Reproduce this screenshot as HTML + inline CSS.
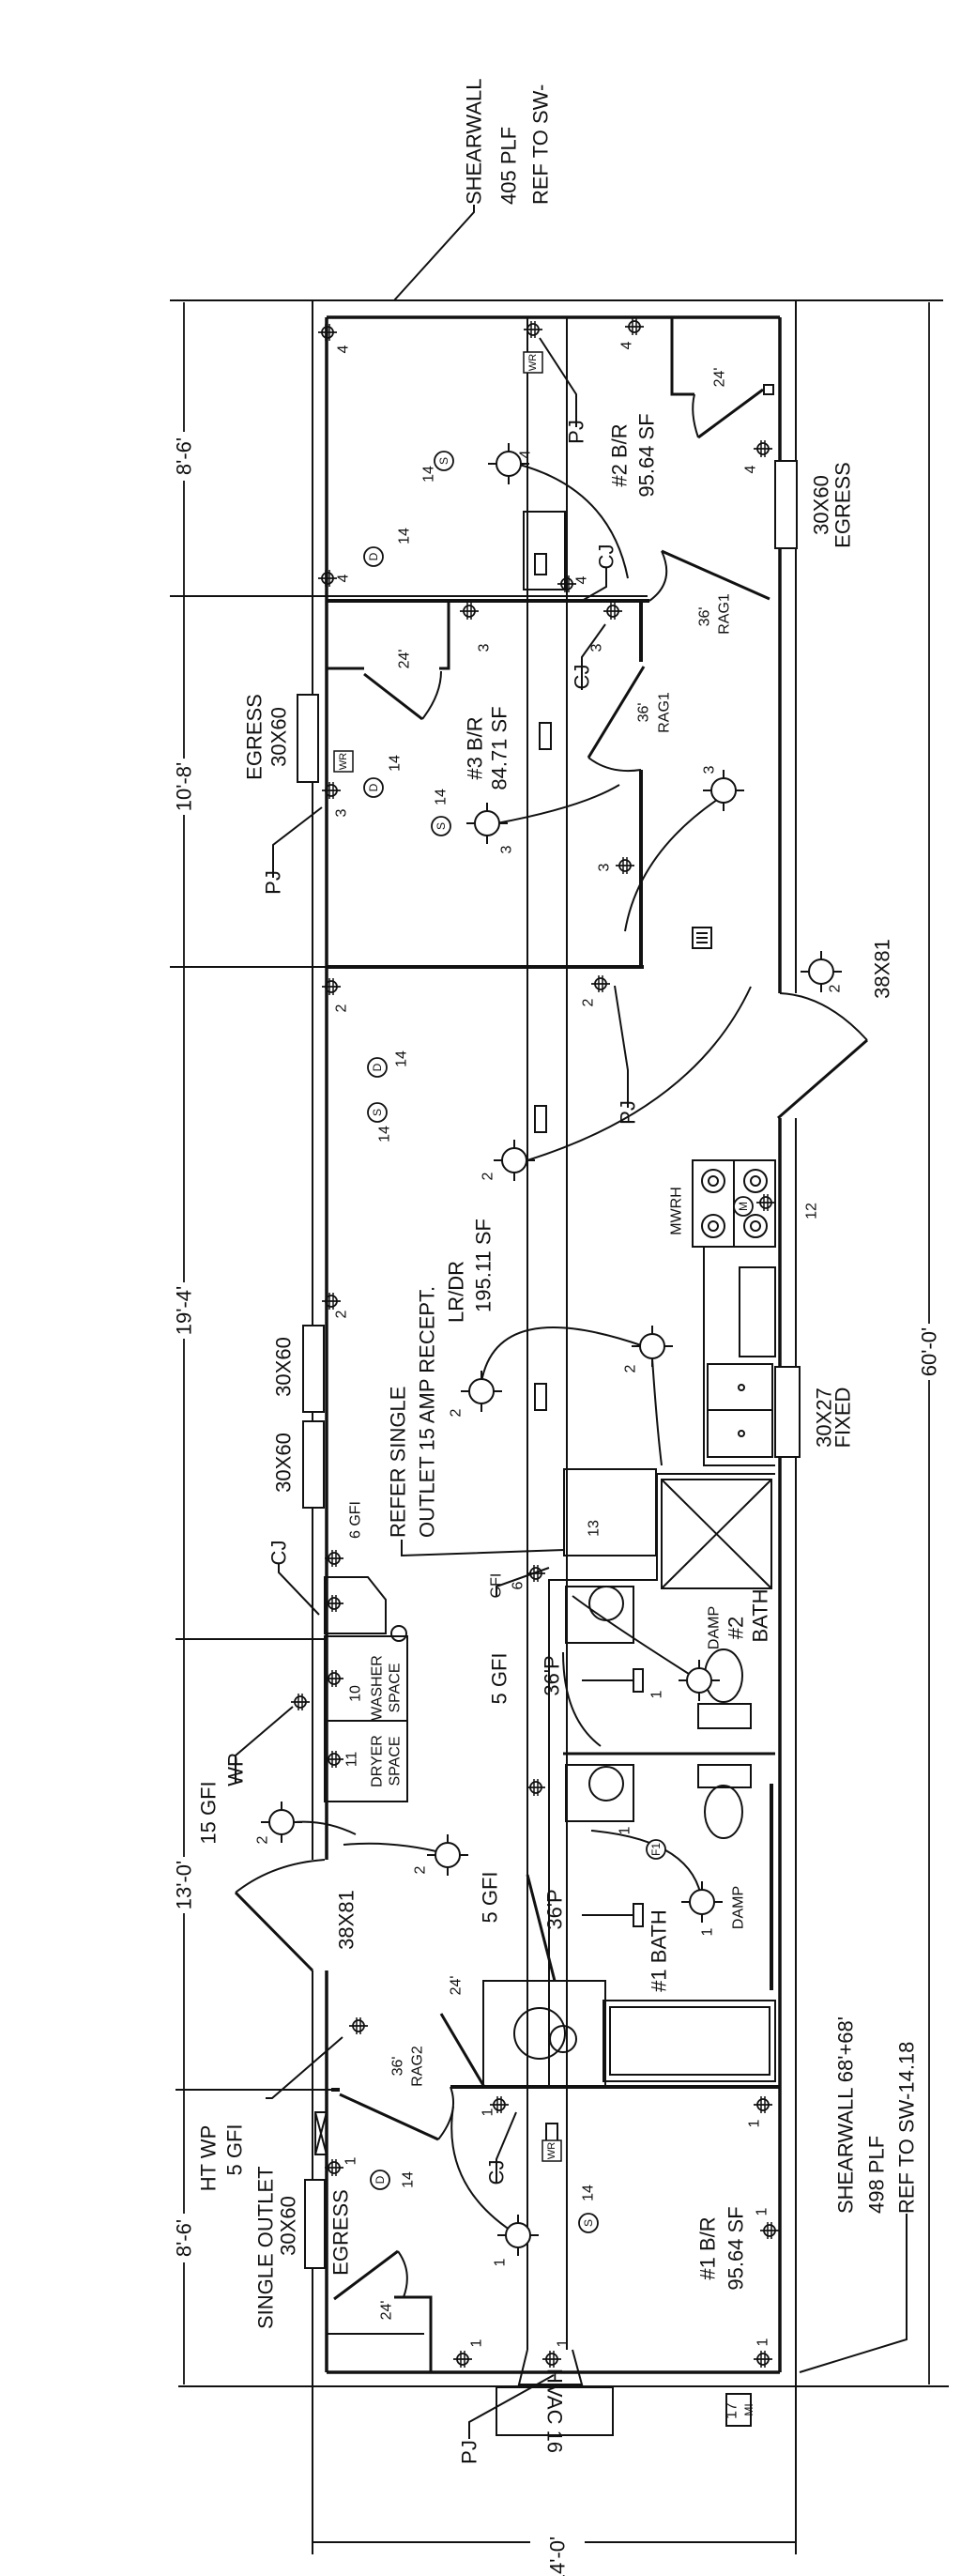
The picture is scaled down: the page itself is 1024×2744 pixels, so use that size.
<!DOCTYPE html>
<html><head><meta charset="utf-8"><style>
html,body{margin:0;padding:0;background:#fff;}
svg{display:block;}
text{font-family:"Liberation Sans",sans-serif;fill:#111;}
.t{font-size:22px;}
.s{font-size:16px;}
</style></head><body>
<svg width="1024" height="2744" viewBox="0 0 1024 2744" xmlns="http://www.w3.org/2000/svg">
<defs>
<g id="o"><circle cx="0" cy="0" r="6" fill="none" stroke="#111" stroke-width="1.8"/><line x1="-10" y1="0" x2="10" y2="0" stroke="#111" stroke-width="1.8"/><line x1="-2" y1="-9" x2="-2" y2="9" stroke="#111" stroke-width="1.5"/><line x1="2" y1="-9" x2="2" y2="9" stroke="#111" stroke-width="1.5"/></g>
<g id="L"><circle cx="0" cy="0" r="13" fill="#fff" stroke="#111" stroke-width="2"/><line x1="-22" y1="0" x2="-13" y2="0" stroke="#111" stroke-width="2"/><line x1="13" y1="0" x2="22" y2="0" stroke="#111" stroke-width="2"/><line x1="0" y1="-22" x2="0" y2="-13" stroke="#111" stroke-width="2"/><line x1="0" y1="13" x2="0" y2="22" stroke="#111" stroke-width="2"/></g>
<g id="c"><circle cx="0" cy="0" r="10" fill="#fff" stroke="#111" stroke-width="1.8"/></g>
</defs>
<g stroke="#111" fill="none" stroke-width="2">
<!-- outer frame / dimension lines -->
<line x1="181" y1="320" x2="1005" y2="320"/>
<line x1="190" y1="2542" x2="1011" y2="2542"/>
<line x1="196" y1="322" x2="196" y2="2540" stroke-width="1.8"/>
<line x1="990" y1="322" x2="990" y2="2540" stroke-width="1.8"/>
<line x1="181" y1="635" x2="690" y2="635"/>
<line x1="181" y1="1030" x2="686" y2="1030"/>
<line x1="187" y1="1746" x2="348" y2="1746"/>
<line x1="187" y1="2226" x2="360" y2="2226"/>
<line x1="333" y1="2542" x2="333" y2="2721"/>
<line x1="848" y1="2542" x2="848" y2="2721"/>
<line x1="333" y1="2708" x2="848" y2="2708"/>
<!-- shearwall leaders -->
<polyline points="505,218 505,226 420,320"/>
<polyline points="966,2358 966,2492 852,2527"/>
<!-- walls -->
<line x1="333" y1="320" x2="333" y2="2542"/>
<line x1="348" y1="338" x2="348" y2="2527" stroke-width="3.5"/>
<line x1="848" y1="320" x2="848" y2="2542"/>
<line x1="831" y1="338" x2="831" y2="2527" stroke-width="3.5"/>
<line x1="348" y1="338" x2="831" y2="338" stroke-width="3.5"/>
<line x1="348" y1="2527" x2="831" y2="2527" stroke-width="3.5"/>
<!-- duct -->
<line x1="562" y1="338" x2="562" y2="2503"/>
<line x1="604" y1="338" x2="604" y2="2503"/>
<polyline points="562,2503 553,2540 620,2540 610,2503"/>
<rect x="558" y="545" width="44" height="83"/>
<rect x="570" y="590" width="12" height="22"/>
<rect x="575" y="770" width="12" height="28"/>
<rect x="570" y="1178" width="12" height="28"/>
<rect x="570" y="1474" width="12" height="28"/>
<rect x="582" y="2262" width="12" height="28"/>
<!-- bedroom walls -->
<line x1="348" y1="640" x2="692" y2="640" stroke-width="4"/>
<line x1="348" y1="1030" x2="686" y2="1030" stroke-width="4"/>
<line x1="683" y1="640" x2="683" y2="705" stroke-width="4"/>
<line x1="683" y1="820" x2="683" y2="1030" stroke-width="4"/>
<line x1="686" y1="710" x2="627" y2="807" stroke-width="3"/>
<line x1="820" y1="638" x2="705" y2="587" stroke-width="3"/>
<path d="M705 587 Q 720 620 692 640"/>
<path d="M627 807 Q 650 825 683 820"/>
<!-- #2 closet -->
<polyline points="716,338 716,420 740,420" stroke-width="3"/>
<line x1="813" y1="415" x2="744" y2="466" stroke-width="3"/>
<path d="M744 466 Q 735 440 740 420"/>
<rect x="814" y="410" width="10" height="10"/>
<!-- #3 closet -->
<polyline points="478,640 478,712 468,712" stroke-width="3"/>
<line x1="348" y1="712" x2="388" y2="712" stroke-width="3"/>
<line x1="388" y1="718" x2="450" y2="766" stroke-width="3"/>
<path d="M450 766 Q 470 740 470 715"/>
<!-- windows -->
<rect x="317" y="740" width="22" height="93" fill="#fff"/>
<rect x="826" y="491" width="23" height="93" fill="#fff"/>
<rect x="323" y="1412" width="22" height="92" fill="#fff"/>
<rect x="323" y="1514" width="22" height="92" fill="#fff"/>
<rect x="826" y="1456" width="26" height="96" fill="#fff"/>
<rect x="325" y="2322" width="21" height="94" fill="#fff"/>
<rect x="336" y="2250" width="12" height="45"/>
<line x1="336" y1="2250" x2="348" y2="2295"/><line x1="348" y1="2250" x2="336" y2="2295"/>
<!-- door openings -->
<rect x="826" y="1058" width="26" height="133" fill="#fff" stroke="none"/>
<rect x="328" y="1981" width="24" height="118" fill="#fff" stroke="none"/>
<line x1="829" y1="1191" x2="924" y2="1108" stroke-width="3"/>
<path d="M924 1108 Q 880 1060 831 1058"/>
<line x1="333" y1="2099" x2="251" y2="2016" stroke-width="3"/>
<path d="M251 2016 Q 290 1985 346 1981"/>
<!-- kitchen -->
<rect x="738" y="1236" width="88" height="92"/>
<line x1="782" y1="1236" x2="782" y2="1328"/>
<circle cx="760" cy="1258" r="12"/><circle cx="760" cy="1258" r="5"/>
<circle cx="805" cy="1258" r="12"/><circle cx="805" cy="1258" r="5"/>
<circle cx="760" cy="1306" r="12"/><circle cx="760" cy="1306" r="5"/>
<circle cx="805" cy="1306" r="12"/><circle cx="805" cy="1306" r="5"/>
<polyline points="750,1328 750,1561 826,1561"/>
<rect x="788" y="1350" width="38" height="95"/>
<rect x="754" y="1453" width="69" height="99"/>
<line x1="754" y1="1502" x2="823" y2="1502"/>
<circle cx="790" cy="1478" r="3"/><circle cx="790" cy="1527" r="3"/>
<!-- laundry -->
<rect x="346" y="1743" width="88" height="176"/>
<line x1="346" y1="1833" x2="434" y2="1833"/>
<polygon points="346,1680 392,1680 411,1704 411,1740 346,1740"/>
<circle cx="425" cy="1740" r="8"/>
<!-- baths -->
<rect x="601" y="1565" width="98" height="92"/>
<polyline points="585,2223 585,1683 700,1683 700,1570 826,1570"/>
<rect x="705" y="1576" width="117" height="116"/>
<line x1="705" y1="1576" x2="822" y2="1692"/><line x1="822" y1="1576" x2="705" y2="1692"/>
<line x1="600" y1="1868" x2="826" y2="1868" stroke-width="3"/>
<rect x="603" y="1690" width="72" height="60"/>
<circle cx="646" cy="1708" r="18"/>
<rect x="603" y="1880" width="72" height="60"/>
<circle cx="646" cy="1900" r="18"/>
<ellipse cx="771" cy="1785" rx="20" ry="28"/>
<rect x="744" y="1815" width="56" height="26"/>
<ellipse cx="771" cy="1930" rx="20" ry="28"/>
<rect x="744" y="1880" width="56" height="24"/>
<line x1="620" y1="1790" x2="675" y2="1790"/><rect x="675" y="1778" width="10" height="24"/>
<line x1="620" y1="2040" x2="675" y2="2040"/><rect x="675" y="2028" width="10" height="24"/>
<line x1="822" y1="1900" x2="822" y2="2120" stroke-width="4"/>
<rect x="643" y="2131" width="183" height="86"/>
<rect x="650" y="2138" width="170" height="72"/>
<rect x="515" y="2110" width="130" height="113"/>
<circle cx="575" cy="2166" r="27"/><circle cx="600" cy="2172" r="14"/>
<line x1="591" y1="2110" x2="562" y2="1997" stroke-width="3"/>
<line x1="480" y1="2223" x2="831" y2="2223" stroke-width="4"/>
<line x1="353" y1="2226" x2="362" y2="2226" stroke-width="4"/>
<line x1="362" y1="2231" x2="467" y2="2279" stroke-width="3"/>
<path d="M467 2279 Q 490 2250 480 2223"/>
<line x1="516" y1="2223" x2="470" y2="2145" stroke-width="3"/>
<!-- #1 closet -->
<polyline points="459,2527 459,2447 420,2447" stroke-width="3"/>
<line x1="348" y1="2486" x2="452" y2="2486"/>
<line x1="356" y1="2449" x2="424" y2="2398" stroke-width="3"/>
<path d="M424 2398 Q 440 2420 430 2447"/>
<!-- HVAC -->
<rect x="529" y="2543" width="124" height="51"/>
<rect x="774" y="2550" width="26" height="34"/>
<polyline points="500,2598 500,2580 590,2530"/>
<!-- register -->
<rect x="738" y="988" width="20" height="22"/>
<line x1="742" y1="994" x2="754" y2="994"/><line x1="742" y1="999" x2="754" y2="999"/><line x1="742" y1="1004" x2="754" y2="1004"/>
<!-- wiring curves -->
<path d="M550 494 Q 650 520 669 616"/>
<path d="M529 877 Q 620 860 660 836"/>
<path d="M764 852 Q 680 910 666 992"/>
<path d="M562 1236 Q 740 1180 800 1051"/>
<path d="M513 1472 Q 530 1380 686 1434"/>
<path d="M695 1447 Q 700 1520 705 1561"/>
<path d="M300 1943 Q 340 1935 379 1954"/>
<path d="M477 1975 Q 420 1960 366 1965"/>
<path d="M552 2381 Q 470 2330 483 2244"/>
<path d="M748 2026 Q 740 1960 630 1950"/>
<path d="M745 1790 Q 650 1730 610 1700"/>
<path d="M640 1860 Q 600 1830 600 1760"/>
<!-- leaders -->
<polyline points="428,1640 428,1657 601,1651"/>
<polyline points="614,455 614,420 575,360"/>
<polyline points="291,935 291,900 343,860"/>
<polyline points="669,1180 669,1140 655,1050"/>
<polyline points="297,1665 297,1675 340,1720"/>
<polyline points="251,1900 251,1870 312,1818"/>
<polyline points="283,2235 290,2235 365,2170"/>
<polyline points="529,2325 529,2300 550,2250"/>
<polyline points="529,1700 529,1690 585,1670"/>
<polyline points="646,605 646,625 620,640"/>
<polyline points="620,735 620,700 645,665"/>
</g>
<!-- fixtures -->
<g>
<use href="#L" x="542" y="494"/><use href="#L" x="519" y="877"/><use href="#L" x="771" y="842"/>
<use href="#L" x="548" y="1236"/><use href="#L" x="513" y="1482"/><use href="#L" x="695" y="1434"/>
<use href="#L" x="875" y="1035"/><use href="#L" x="300" y="1941"/><use href="#L" x="477" y="1976"/>
<use href="#L" x="748" y="2026"/><use href="#L" x="552" y="2381"/><use href="#L" x="745" y="1790"/>
<use href="#o" x="349" y="354"/><use href="#o" x="568" y="351"/><use href="#o" x="676" y="348"/>
<use href="#o" x="813" y="478"/><use href="#o" x="349" y="616"/><use href="#o" x="604" y="622"/>
<use href="#o" x="500" y="651"/><use href="#o" x="653" y="651"/><use href="#o" x="353" y="842"/>
<use href="#o" x="666" y="922"/><use href="#o" x="353" y="1051"/><use href="#o" x="640" y="1048"/>
<use href="#o" x="353" y="1386"/><use href="#o" x="356" y="1660"/><use href="#o" x="356" y="1708"/>
<use href="#o" x="356" y="1788"/><use href="#o" x="356" y="1874"/><use href="#o" x="320" y="1813"/>
<use href="#o" x="571" y="1676"/><use href="#o" x="816" y="1281"/><use href="#o" x="382" y="2158"/>
<use href="#o" x="356" y="2309"/><use href="#o" x="532" y="2242"/><use href="#o" x="813" y="2242"/>
<use href="#o" x="820" y="2376"/><use href="#o" x="493" y="2513"/><use href="#o" x="588" y="2513"/>
<use href="#o" x="813" y="2513"/><use href="#o" x="571" y="1904"/>
<use href="#c" x="473" y="491"/><use href="#c" x="398" y="593"/><use href="#c" x="398" y="839"/>
<use href="#c" x="470" y="880"/><use href="#c" x="402" y="1185"/><use href="#c" x="402" y="1137"/>
<use href="#c" x="405" y="2322"/><use href="#c" x="627" y="2368"/><use href="#c" x="699" y="1970"/>
<use href="#c" x="792" y="1285"/>
</g>
<g stroke="#111" fill="#fff" stroke-width="1.5">
<rect x="558" y="375" width="20" height="22"/><rect x="356" y="800" width="20" height="22"/><rect x="578" y="2280" width="20" height="22"/>
</g>
<!-- white backs for dim labels -->
<g fill="#fff">
<rect x="184" y="460" width="24" height="52"/><rect x="184" y="808" width="24" height="60"/>
<rect x="184" y="1366" width="24" height="60"/><rect x="184" y="1978" width="24" height="60"/>
<rect x="184" y="2358" width="24" height="52"/><rect x="978" y="1410" width="24" height="60"/>
<rect x="565" y="2700" width="58" height="16"/>
</g>
<g class="t">
<text transform="translate(196 486) rotate(-90)" text-anchor="middle" dominant-baseline="central">8'-6'</text>
<text transform="translate(196 838) rotate(-90)" text-anchor="middle" dominant-baseline="central">10'-8'</text>
<text transform="translate(196 1396) rotate(-90)" text-anchor="middle" dominant-baseline="central">19'-4'</text>
<text transform="translate(196 2008) rotate(-90)" text-anchor="middle" dominant-baseline="central">13'-0'</text>
<text transform="translate(196 2384) rotate(-90)" text-anchor="middle" dominant-baseline="central">8'-6'</text>
<text transform="translate(990 1440) rotate(-90)" text-anchor="middle" dominant-baseline="central">60'-0'</text>
<text transform="translate(594 2728) rotate(-90)" text-anchor="middle" dominant-baseline="central">14'-0'</text>
<text transform="translate(505 218) rotate(-90)" dominant-baseline="central">SHEARWALL</text>
<text transform="translate(542 218) rotate(-90)" dominant-baseline="central">405 PLF</text>
<text transform="translate(576 218) rotate(-90)" dominant-baseline="central">REF TO SW-</text>
<text transform="translate(901 2358) rotate(-90)" dominant-baseline="central">SHEARWALL  68'+68'</text>
<text transform="translate(934 2358) rotate(-90)" dominant-baseline="central">498 PLF</text>
<text transform="translate(966 2358) rotate(-90)" dominant-baseline="central">REF TO SW-14.18</text>
<text transform="translate(660 485) rotate(-90)" text-anchor="middle" dominant-baseline="central">#2 B/R</text>
<text transform="translate(689 485) rotate(-90)" text-anchor="middle" dominant-baseline="central">95.64 SF</text>
<text transform="translate(506 797) rotate(-90)" text-anchor="middle" dominant-baseline="central">#3 B/R</text>
<text transform="translate(532 797) rotate(-90)" text-anchor="middle" dominant-baseline="central">84.71 SF</text>
<text transform="translate(754 2395) rotate(-90)" text-anchor="middle" dominant-baseline="central">#1 B/R</text>
<text transform="translate(784 2395) rotate(-90)" text-anchor="middle" dominant-baseline="central">95.64 SF</text>
<text transform="translate(424 1638) rotate(-90)" dominant-baseline="central">REFER SINGLE</text>
<text transform="translate(455 1638) rotate(-90)" dominant-baseline="central">OUTLET 15 AMP RECEPT.</text>
<text transform="translate(486 1376) rotate(-90)" text-anchor="middle" dominant-baseline="central">LR/DR</text>
<text transform="translate(515 1348) rotate(-90)" text-anchor="middle" dominant-baseline="central">195.11 SF</text>
<text transform="translate(875 538) rotate(-90)" text-anchor="middle" dominant-baseline="central">30X60</text>
<text transform="translate(898 538) rotate(-90)" text-anchor="middle" dominant-baseline="central">EGRESS</text>
<text transform="translate(271 785) rotate(-90)" text-anchor="middle" dominant-baseline="central">EGRESS</text>
<text transform="translate(297 785) rotate(-90)" text-anchor="middle" dominant-baseline="central">30X60</text>
<text transform="translate(302 1456) rotate(-90)" text-anchor="middle" dominant-baseline="central">30X60</text>
<text transform="translate(302 1558) rotate(-90)" text-anchor="middle" dominant-baseline="central">30X60</text>
<text transform="translate(878 1510) rotate(-90)" text-anchor="middle" dominant-baseline="central">30X27</text>
<text transform="translate(898 1510) rotate(-90)" text-anchor="middle" dominant-baseline="central">FIXED</text>
<text transform="translate(940 1032) rotate(-90)" text-anchor="middle" dominant-baseline="central">38X81</text>
<text transform="translate(369 2045) rotate(-90)" text-anchor="middle" dominant-baseline="central">38X81</text>
<text transform="translate(222 1931) rotate(-90)" text-anchor="middle" dominant-baseline="central">15 GFI</text>
<text transform="translate(251 1885) rotate(-90)" text-anchor="middle" dominant-baseline="central">WP</text>
<text transform="translate(222 2299) rotate(-90)" text-anchor="middle" dominant-baseline="central">HT WP</text>
<text transform="translate(250 2290) rotate(-90)" text-anchor="middle" dominant-baseline="central">5 GFI</text>
<text transform="translate(283 2481) rotate(-90)" dominant-baseline="central">SINGLE OUTLET</text>
<text transform="translate(307 2371) rotate(-90)" text-anchor="middle" dominant-baseline="central">30X60</text>
<text transform="translate(363 2378) rotate(-90)" text-anchor="middle" dominant-baseline="central">EGRESS</text>
<text transform="translate(532 1788) rotate(-90)" text-anchor="middle" dominant-baseline="central">5 GFI</text>
<text transform="translate(522 2021) rotate(-90)" text-anchor="middle" dominant-baseline="central">5 GFI</text>
<text transform="translate(588 1785) rotate(-90)" text-anchor="middle" dominant-baseline="central">36'P</text>
<text transform="translate(591 2034) rotate(-90)" text-anchor="middle" dominant-baseline="central">36'P</text>
<text transform="translate(702 2078) rotate(-90)" text-anchor="middle" dominant-baseline="central">#1 BATH</text>
<text transform="translate(784 1734) rotate(-90)" text-anchor="middle" dominant-baseline="central">#2</text>
<text transform="translate(810 1721) rotate(-90)" text-anchor="middle" dominant-baseline="central">BATH</text>
<text transform="translate(297 1654) rotate(-90)" text-anchor="middle" dominant-baseline="central">CJ</text>
<text transform="translate(646 593) rotate(-90)" text-anchor="middle" dominant-baseline="central">CJ</text>
<text transform="translate(620 721) rotate(-90)" text-anchor="middle" dominant-baseline="central">CJ</text>
<text transform="translate(529 2314) rotate(-90)" text-anchor="middle" dominant-baseline="central">CJ</text>
<text transform="translate(614 460) rotate(-90)" text-anchor="middle" dominant-baseline="central">PJ</text>
<text transform="translate(291 940) rotate(-90)" text-anchor="middle" dominant-baseline="central">PJ</text>
<text transform="translate(669 1185) rotate(-90)" text-anchor="middle" dominant-baseline="central">PJ</text>
<text transform="translate(500 2612) rotate(-90)" text-anchor="middle" dominant-baseline="central">PJ</text>
<text transform="translate(591 2568) rotate(90)" text-anchor="middle" dominant-baseline="central">HVAC 16</text>
</g>
<g class="s">
<text transform="translate(751 657) rotate(-90)" text-anchor="middle" dominant-baseline="central">36'</text>
<text transform="translate(772 654) rotate(-90)" text-anchor="middle" dominant-baseline="central">RAG1</text>
<text transform="translate(686 759) rotate(-90)" text-anchor="middle" dominant-baseline="central">36'</text>
<text transform="translate(708 759) rotate(-90)" text-anchor="middle" dominant-baseline="central">RAG1</text>
<text transform="translate(424 2201) rotate(-90)" text-anchor="middle" dominant-baseline="central">36'</text>
<text transform="translate(445 2201) rotate(-90)" text-anchor="middle" dominant-baseline="central">RAG2</text>
<text transform="translate(767 402) rotate(-90)" text-anchor="middle" dominant-baseline="central">24'</text>
<text transform="translate(431 702) rotate(-90)" text-anchor="middle" dominant-baseline="central">24'</text>
<text transform="translate(486 2115) rotate(-90)" text-anchor="middle" dominant-baseline="central">24'</text>
<text transform="translate(412 2461) rotate(-90)" text-anchor="middle" dominant-baseline="central">24'</text>
<text transform="translate(721 1290) rotate(-90)" text-anchor="middle" dominant-baseline="central">MWRH</text>
<text transform="translate(865 1290) rotate(-90)" text-anchor="middle" dominant-baseline="central">12</text>
<text transform="translate(633 1628) rotate(-90)" text-anchor="middle" dominant-baseline="central">13</text>
<text transform="translate(761 1734) rotate(-90)" text-anchor="middle" dominant-baseline="central">DAMP</text>
<text transform="translate(787 2032) rotate(-90)" text-anchor="middle" dominant-baseline="central">DAMP</text>
<text transform="translate(402 1798) rotate(-90)" text-anchor="middle" dominant-baseline="central">WASHER</text>
<text transform="translate(421 1798) rotate(-90)" text-anchor="middle" dominant-baseline="central">SPACE</text>
<text transform="translate(402 1876) rotate(-90)" text-anchor="middle" dominant-baseline="central">DRYER</text>
<text transform="translate(421 1876) rotate(-90)" text-anchor="middle" dominant-baseline="central">SPACE</text>
<text transform="translate(379 1619) rotate(-90)" text-anchor="middle" dominant-baseline="central">6 GFI</text>
<text transform="translate(529 1689) rotate(-90)" text-anchor="middle" dominant-baseline="central">GFI</text>
<text transform="translate(552 1689) rotate(-90)" text-anchor="middle" dominant-baseline="central">6</text>
<text transform="translate(780 2568) rotate(-90)" text-anchor="middle" dominant-baseline="central">17</text>
<text transform="translate(798 2567) rotate(-90)" text-anchor="middle" dominant-baseline="central" font-size="12">MI</text>
<text transform="translate(457 505) rotate(-90)" text-anchor="middle" dominant-baseline="central">14</text>
<text transform="translate(431 571) rotate(-90)" text-anchor="middle" dominant-baseline="central">14</text>
<text transform="translate(421 813) rotate(-90)" text-anchor="middle" dominant-baseline="central">14</text>
<text transform="translate(470 849) rotate(-90)" text-anchor="middle" dominant-baseline="central">14</text>
<text transform="translate(428 1128) rotate(-90)" text-anchor="middle" dominant-baseline="central">14</text>
<text transform="translate(410 1208) rotate(-90)" text-anchor="middle" dominant-baseline="central">14</text>
<text transform="translate(435 2322) rotate(-90)" text-anchor="middle" dominant-baseline="central">14</text>
<text transform="translate(627 2336) rotate(-90)" text-anchor="middle" dominant-baseline="central">14</text>
<text transform="translate(366 372) rotate(-90)" text-anchor="middle" dominant-baseline="central">4</text>
<text transform="translate(366 616) rotate(-90)" text-anchor="middle" dominant-baseline="central">4</text>
<text transform="translate(560 484) rotate(-90)" text-anchor="middle" dominant-baseline="central">4</text>
<text transform="translate(668 368) rotate(-90)" text-anchor="middle" dominant-baseline="central">4</text>
<text transform="translate(800 500) rotate(-90)" text-anchor="middle" dominant-baseline="central">4</text>
<text transform="translate(620 618) rotate(-90)" text-anchor="middle" dominant-baseline="central">4</text>
<text transform="translate(516 690) rotate(-90)" text-anchor="middle" dominant-baseline="central">3</text>
<text transform="translate(636 690) rotate(-90)" text-anchor="middle" dominant-baseline="central">3</text>
<text transform="translate(364 866) rotate(-90)" text-anchor="middle" dominant-baseline="central">3</text>
<text transform="translate(540 905) rotate(-90)" text-anchor="middle" dominant-baseline="central">3</text>
<text transform="translate(644 924) rotate(-90)" text-anchor="middle" dominant-baseline="central">3</text>
<text transform="translate(756 820) rotate(-90)" text-anchor="middle" dominant-baseline="central">3</text>
<text transform="translate(364 1074) rotate(-90)" text-anchor="middle" dominant-baseline="central">2</text>
<text transform="translate(627 1068) rotate(-90)" text-anchor="middle" dominant-baseline="central">2</text>
<text transform="translate(364 1400) rotate(-90)" text-anchor="middle" dominant-baseline="central">2</text>
<text transform="translate(520 1253) rotate(-90)" text-anchor="middle" dominant-baseline="central">2</text>
<text transform="translate(486 1505) rotate(-90)" text-anchor="middle" dominant-baseline="central">2</text>
<text transform="translate(672 1458) rotate(-90)" text-anchor="middle" dominant-baseline="central">2</text>
<text transform="translate(890 1053) rotate(-90)" text-anchor="middle" dominant-baseline="central">2</text>
<text transform="translate(280 1960) rotate(-90)" text-anchor="middle" dominant-baseline="central">2</text>
<text transform="translate(448 1992) rotate(-90)" text-anchor="middle" dominant-baseline="central">2</text>
<text transform="translate(374 2302) rotate(-90)" text-anchor="middle" dominant-baseline="central">1</text>
<text transform="translate(520 2250) rotate(-90)" text-anchor="middle" dominant-baseline="central">1</text>
<text transform="translate(804 2262) rotate(-90)" text-anchor="middle" dominant-baseline="central">1</text>
<text transform="translate(812 2356) rotate(-90)" text-anchor="middle" dominant-baseline="central">1</text>
<text transform="translate(533 2410) rotate(-90)" text-anchor="middle" dominant-baseline="central">1</text>
<text transform="translate(508 2496) rotate(-90)" text-anchor="middle" dominant-baseline="central">1</text>
<text transform="translate(600 2496) rotate(-90)" text-anchor="middle" dominant-baseline="central">1</text>
<text transform="translate(813 2495) rotate(-90)" text-anchor="middle" dominant-baseline="central">1</text>
<text transform="translate(754 2058) rotate(-90)" text-anchor="middle" dominant-baseline="central">1</text>
<text transform="translate(666 1950) rotate(-90)" text-anchor="middle" dominant-baseline="central">1</text>
<text transform="translate(700 1805) rotate(-90)" text-anchor="middle" dominant-baseline="central">1</text>
<text transform="translate(379 1804) rotate(-90)" text-anchor="middle" dominant-baseline="central">10</text>
<text transform="translate(375 1874) rotate(-90)" text-anchor="middle" dominant-baseline="central">11</text>
<text transform="translate(473 491) rotate(-90)" text-anchor="middle" dominant-baseline="central" font-size="12">S</text>
<text transform="translate(470 880) rotate(-90)" text-anchor="middle" dominant-baseline="central" font-size="12">S</text>
<text transform="translate(402 1185) rotate(-90)" text-anchor="middle" dominant-baseline="central" font-size="12">S</text>
<text transform="translate(627 2368) rotate(-90)" text-anchor="middle" dominant-baseline="central" font-size="12">S</text>
<text transform="translate(398 593) rotate(-90)" text-anchor="middle" dominant-baseline="central" font-size="12">D</text>
<text transform="translate(398 839) rotate(-90)" text-anchor="middle" dominant-baseline="central" font-size="12">D</text>
<text transform="translate(402 1137) rotate(-90)" text-anchor="middle" dominant-baseline="central" font-size="12">D</text>
<text transform="translate(405 2322) rotate(-90)" text-anchor="middle" dominant-baseline="central" font-size="12">D</text>
<text transform="translate(699 1970) rotate(-90)" text-anchor="middle" dominant-baseline="central" font-size="12">F1</text>
<text transform="translate(792 1285) rotate(-90)" text-anchor="middle" dominant-baseline="central" font-size="12">M</text>
<text transform="translate(568 386) rotate(-90)" text-anchor="middle" dominant-baseline="central" font-size="11">WR</text>
<text transform="translate(366 811) rotate(-90)" text-anchor="middle" dominant-baseline="central" font-size="11">WR</text>
<text transform="translate(588 2291) rotate(-90)" text-anchor="middle" dominant-baseline="central" font-size="11">WR</text>
</g>
</svg>
</body></html>
